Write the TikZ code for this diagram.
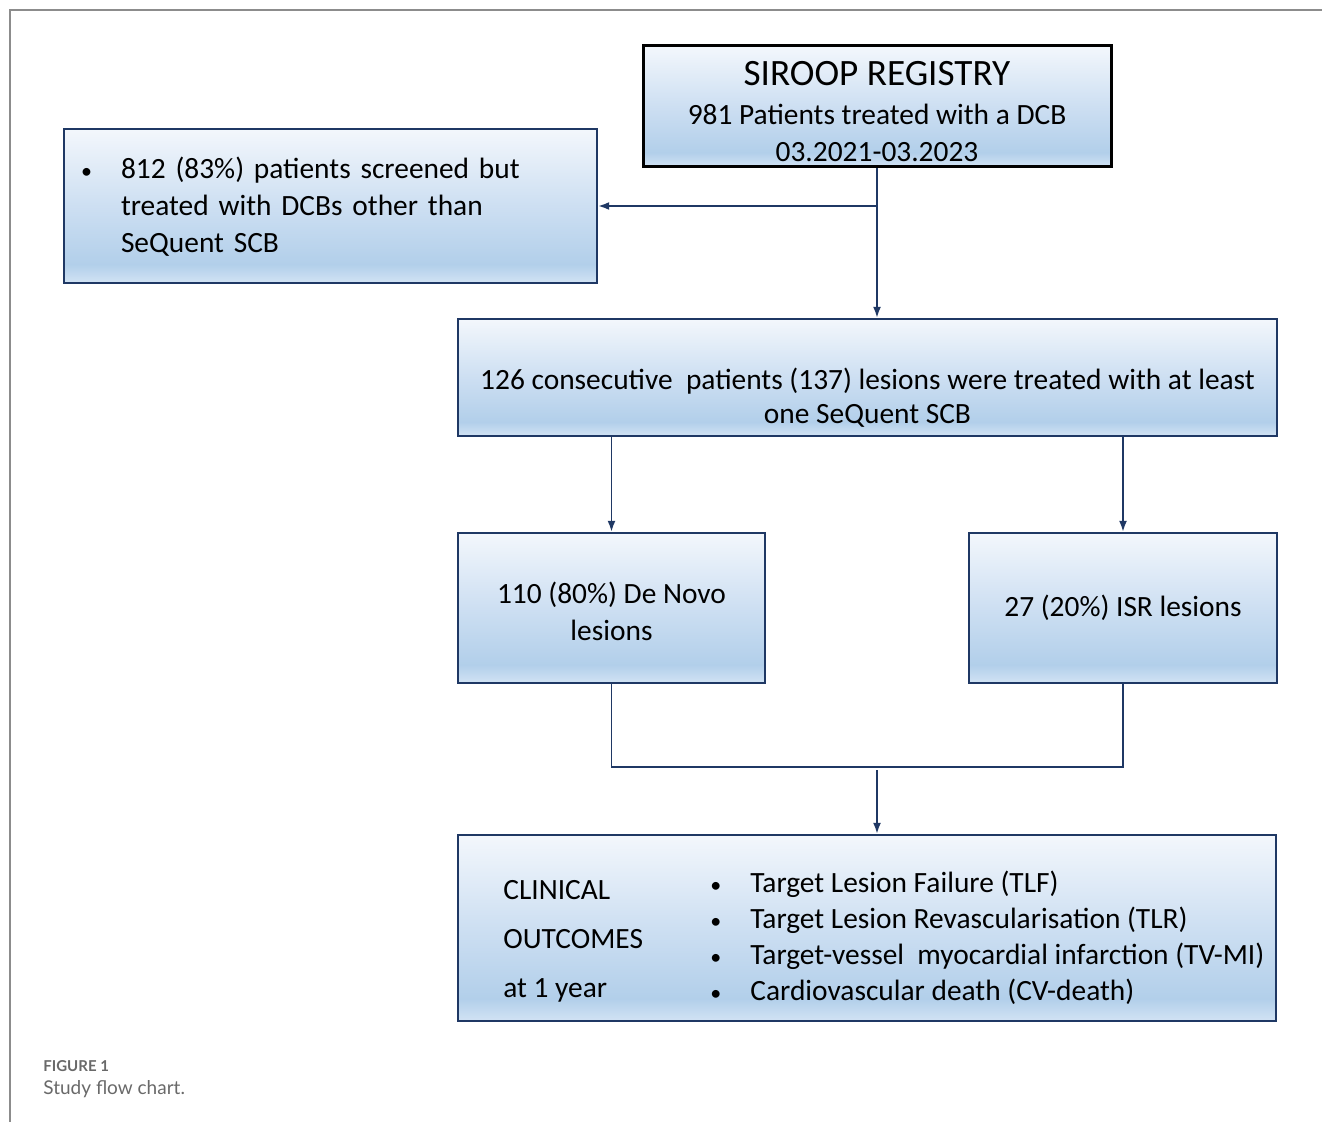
\documentclass[tikz,border=0pt]{standalone}
\usepackage{fontspec}
\setmainfont{Carlito}
\newfontfamily\capfont{Lato}
\usetikzlibrary{positioning,arrows.meta}

\definecolor{navy}{RGB}{31,56,100}
\definecolor{bftop}{RGB}{243,247,252}
\definecolor{bfmid}{RGB}{205,223,242}
\definecolor{bflow}{RGB}{178,207,234}
\definecolor{bfbot}{RGB}{210,227,244}
\definecolor{framegray}{RGB}{140,140,140}
\definecolor{capgray}{RGB}{105,105,105}
\pgfdeclareverticalshading{boxfill}{100bp}{color(0bp)=(bfbot); color(25bp)=(bfbot);
  color(31bp)=(bflow); color(50bp)=(bfmid); color(75bp)=(bftop); color(100bp)=(bftop)}
\newcommand{\bul}{\makebox[18.5pt][l]{\hspace*{-1.5pt}\fontsize{11}{11}\selectfont\textbullet}}

\begin{document}
\begin{tikzpicture}[x=0.5pt, y=-0.5pt,
    box/.style={draw=navy, line width=1.2pt, shading=boxfill, align=center,
      inner sep=0pt, font=\fontsize{14.7}{18.5}\selectfont},
    txt/.style={inner sep=0pt, align=left, font=\fontsize{14.7}{18}\selectfont},
    link/.style={draw=navy, line width=0.9pt},
    arr/.style={link, -{Latex[length=5.5pt, width=4pt]}},
    captxt/.style={inner sep=0pt, anchor=west, text=capgray}
  ]
  \useasboundingbox (0,0) rectangle (1322,1122);
  \draw[framegray, line width=0.7pt] (10,1122) -- (10,10) -- (1322,10);

  % boxes
  \node[box, draw=black, line width=1.5pt, minimum width=234pt, minimum height=60.5pt] (reg) at (877,106.5)
    {\rule{0pt}{17.5pt}{\fontsize{18.6}{20}\selectfont SIROOP REGISTRY}\\[1pt]
     981 Patients treated with a DCB\\ 03.2021-03.2023};
  \node[box, align=left, minimum width=266.5pt, minimum height=77pt, text width=246.5pt] (other) at (330.5,206)
    {\begin{tabular}{@{}l@{}l@{}}
       \bul & \rule{0pt}{15pt}812 (83\%) patients screened but\\
            & treated with DCBs other than\\
            & SeQuent SCB
     \end{tabular}};
  \node[box, minimum width=409.5pt, minimum height=58.5pt, font=\fontsize{14.7}{17}\selectfont] (cons) at (867.5,377.5)
    {\rule{0pt}{31pt}126 consecutive\ \ patients (137) lesions were treated with at least\\ one SeQuent SCB};
  \node[box, minimum width=153.5pt, minimum height=75pt] (denovo) at (611.5,608)
    {\rule{0pt}{14pt}110 (80\%) De Novo\\ lesions};
  \node[box, minimum width=154pt, minimum height=75pt] (isr) at (1123,608)
    {27 (20\%) ISR lesions};
  \node[box, minimum width=409pt, minimum height=93pt] (outc) at (867,928) {};

  % outcome texts
  \node[txt, anchor=west, font=\fontsize{14.7}{24.5}\selectfont] (outl) at (503,941)
    {CLINICAL\\ OUTCOMES\\ at 1 year};
  \node[txt, anchor=west] (outr) at (713,937.5)
    {\bul Target Lesion Failure (TLF)\\
     \bul Target Lesion Revascularisation (TLR)\\
     \bul Target-vessel\ \ myocardial infarction (TV-MI)\\
     \bul Cardiovascular death (CV-death)};

  % connectors
  \draw[arr] (reg.south) -- (reg.south |- cons.north);
  \draw[arr] (reg.south |- other.east) -- (other.east);
  \draw[arr] (denovo.north |- cons.south) -- (denovo.north);
  \draw[arr] (isr.north |- cons.south) -- (isr.north);
  \coordinate (merge) at (877,767);
  \draw[link] (denovo.south) |- (merge) -| (isr.south);
  \draw[arr] ([yshift=-1.5pt]merge) -- (merge |- outc.north);

  % caption
  \node[captxt, font=\capfont\bfseries\fontsize{7.5}{9}\selectfont] (fig) at (43,1066) {FIGURE 1};
  \node[captxt, font=\capfont\fontsize{9.5}{11}\selectfont] (title) at (43,1089) {Study flow chart.};
\end{tikzpicture}
\end{document}
